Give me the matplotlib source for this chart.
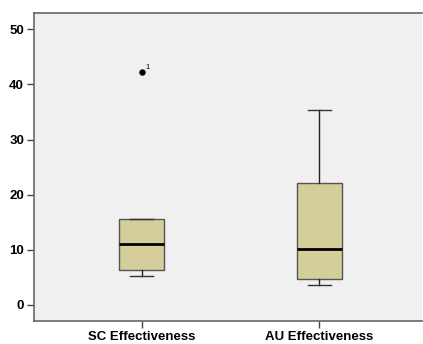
import matplotlib
matplotlib.use("Agg")
import matplotlib.pyplot as plt

plt.rcParams['font.family'] = ['Liberation Sans', 'DejaVu Sans']

# box statistics
labels = ["SC Effectiveness", "AU Effectiveness"]
whislo = [5.3, 3.7]
q1 = [6.3, 4.7]
med = [11.0, 10.1]
q3 = [15.5, 22.2]
whishi = [15.5, 35.4]
fliers = [[42.3], []]
flier_ids = [["1"], []]

stats = []
for i in range(len(labels)):
    stats.append(dict(label=labels[i], whislo=whislo[i], q1=q1[i], med=med[i],
                      q3=q3[i], whishi=whishi[i], fliers=fliers[i]))

fig = plt.figure(figsize=(4.23, 3.44), dpi=100)
ax = fig.add_axes([0.080, 0.067, 0.918, 0.896])
ax.set_facecolor("#f0f0f0")

ax.bxp(stats, positions=[1, 2], widths=0.253, patch_artist=True,
       boxprops=dict(facecolor="#d3ce9a", edgecolor="#555555", linewidth=1.0),
       medianprops=dict(color="black", linewidth=2.0),
       whiskerprops=dict(color="#222222", linewidth=1.0),
       capprops=dict(color="#333333", linewidth=1.0),
       capwidths=0.128,
       flierprops=dict(marker="o", markerfacecolor="black", markeredgecolor="black",
                       markersize=3.6))

for i in range(len(labels)):
    for v, t in zip(fliers[i], flier_ids[i]):
        ax.annotate(t, (i + 1, v), xytext=(3, 2), textcoords="offset points",
                    fontsize=5.5)

ax.set_xlim(0.393, 2.578)
ax.set_ylim(-2.9, 53)
ax.set_yticks([0, 10, 20, 30, 40, 50])
ax.set_xticks([1, 2])
ax.set_xticklabels(labels)
for lab in ax.get_xticklabels() + ax.get_yticklabels():
    lab.set_fontweight("bold")
    lab.set_fontsize(9.5)

for s in ["left", "bottom", "top"]:
    ax.spines[s].set_color("#666666")
    ax.spines[s].set_linewidth(1.2)
ax.spines["right"].set_visible(False)
ax.tick_params(axis="both", length=5, width=1, color="#444444", pad=2)

fig.savefig("out.png", dpi=100)
